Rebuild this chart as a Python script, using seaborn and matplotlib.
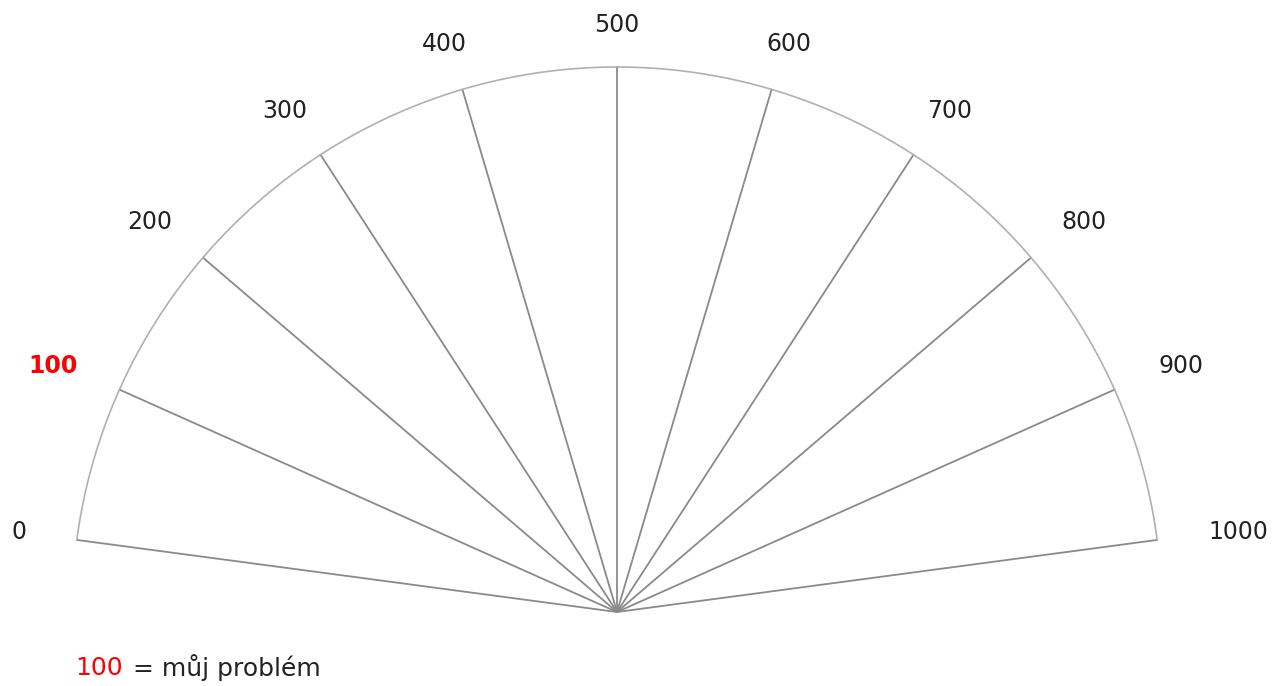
import numpy as np
import pandas as pd
import matplotlib
matplotlib.use("Agg")
import matplotlib.pyplot as plt
import seaborn as sns

# ---- data ----
tick_values = [0, 100, 200, 300, 400, 500, 600, 700, 800, 900, 1000]
tick_labels = ["0", "100", "200", "300", "400", "500", "600", "700", "800", "900", "1000"]
highlight_value = 100
legend_text = " = můj problém"

sns.set_theme(style="white")
plt.rcParams['font.family'] = ['DejaVu Sans']

W, H = 1277, 686
fig = plt.figure(figsize=(W / 100, H / 100), dpi=100)
ax = fig.add_axes([0, 0, 1, 1])
ax.set_xlim(0, W)
ax.set_ylim(H, 0)
ax.axis("off")

cx, cy, R = 617, 612, 545
a_start, a_end = 172.4, 7.6
vmin, vmax = 0, 1000


def ang(v):
    return np.deg2rad(a_start + (a_end - a_start) * (v - vmin) / (vmax - vmin))


# spokes
rows = []
for v in tick_values:
    t = ang(v)
    rows.append(dict(v=v, x=cx, y=cy, o=0))
    rows.append(dict(v=v, x=cx + R * np.cos(t), y=cy - R * np.sin(t), o=1))
spokes = pd.DataFrame(rows)
sns.lineplot(data=spokes, x="x", y="y", units="v", estimator=None, sort=False,
             color="#8a8a8a", linewidth=1.3, ax=ax, legend=False)

# arc
th = np.linspace(ang(vmin), ang(vmax), 400)
arc = pd.DataFrame(dict(x=cx + R * np.cos(th), y=cy - R * np.sin(th)))
sns.lineplot(data=arc, x="x", y="y", sort=False, estimator=None,
             color="#b0b0b0", linewidth=1.2, ax=ax)

# labels
fs = 17
char_w, char_h = 15.3, 17
for v, lab in zip(tick_values, tick_labels):
    t = ang(v)
    c, s = np.cos(t), np.sin(t)
    w = char_w * len(lab)
    d = 579 + 17 * abs(c)
    x = cx + d * c + 0.5 * w * c
    y = cy - d * s - 0.5 * char_h * s
    hl = (v == highlight_value)
    ax.text(x, y, lab, ha="center", va="center",
            fontsize=fs, color="#ff0000" if hl else "#222222",
            fontweight="bold" if hl else "normal")

# legend line
lfs = 18
t1 = ax.text(75, 668, str(highlight_value), ha="left", va="center", fontsize=lfs, color="#ff0000")
fig.canvas.draw()
bb = t1.get_window_extent(renderer=fig.canvas.get_renderer())
x_end = ax.transData.inverted().transform((bb.x1, bb.y0))[0]
ax.text(x_end + 2, 668, legend_text, ha="left", va="center", fontsize=lfs, color="#222222")

fig.savefig("out.png", dpi=100)
